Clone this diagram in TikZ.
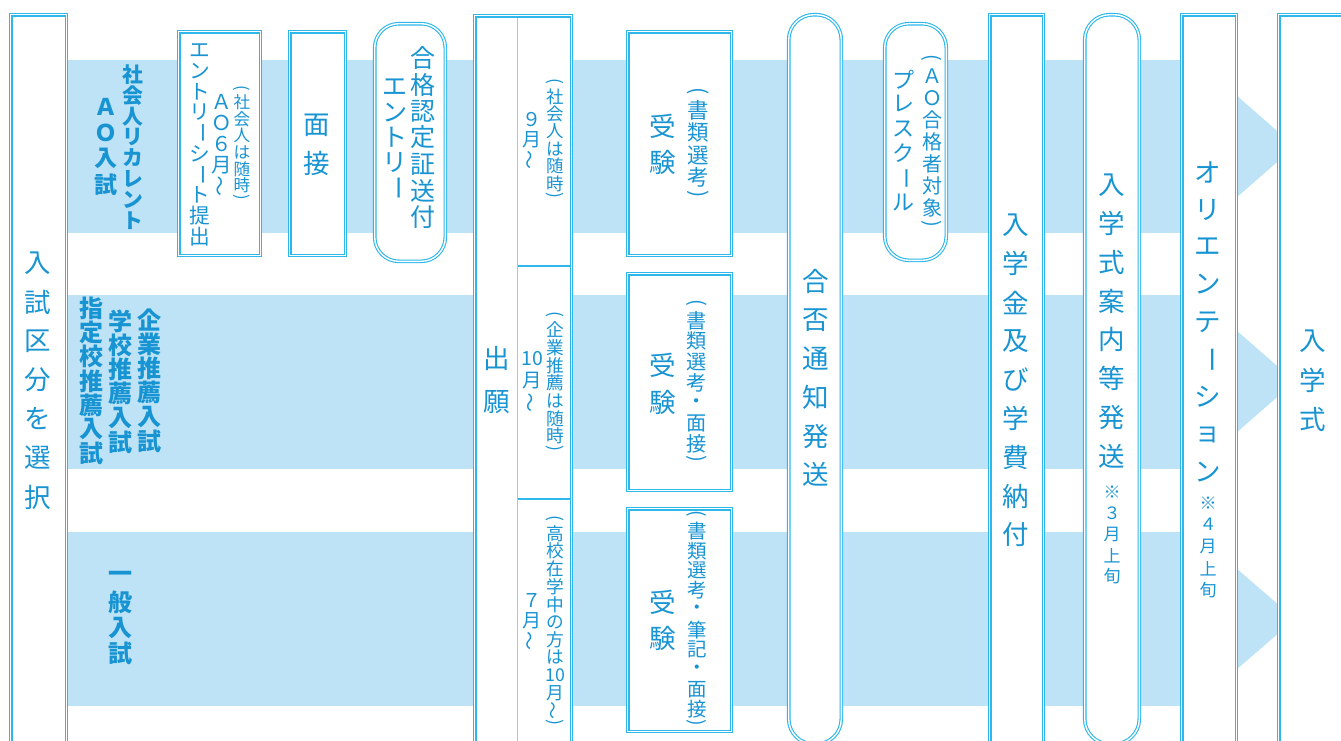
\documentclass[tikz,border=0pt]{standalone}
\usepackage{fontspec}
\usepackage{graphicx}
\usetikzlibrary{fit}
\newfontfamily\jp{Noto Sans CJK JP}
\definecolor{bandc}{HTML}{BEE3F6}
\definecolor{linec}{HTML}{2DB7EB}
\definecolor{txtc}{HTML}{1894D3}
\definecolor{divc}{HTML}{8AD3F2}
% vertical text machinery
\newdimen\vpitch
\def\vLP{vLP}\def\vRP{vRP}\def\vDot{vDot}
\def\vBar{\rotatebox[origin=c]{-90}{ー}}
\def\vTil{\rotatebox[origin=c]{90}{～}}
\def\vTen{10}
\def\vfull#1{\vbox to\vpitch{\vss\hbox to 3em{\hss#1\hss}\vss}}
\def\vsmall#1{\vbox to 0.55\vpitch{\vss\hbox to 3em{\hss#1\hss}\vss}}
\def\vitem#1{\ifx#1\vLP\vsmall{\rotatebox[origin=c]{-90}{(}}\else\ifx#1\vRP\vsmall{\rotatebox[origin=c]{-90}{)}}\else\ifx#1\vDot\vfull{・}\else\vfull{#1}\fi\fi\fi}
\def\vtl#1{\ifx#1\relax\else\vitem{#1}\expandafter\vtl\fi}
\newcommand\vcol[2]{\vbox{\offinterlineskip\vpitch=#1pt\relax\vtl#2\relax}}
\tikzset{
  box/.style={draw=linec, line width=1.1pt, double=white, double distance=1.4pt, fill=white, inner sep=0pt},
  rbox/.style={box, rounded corners=#1},
  lab/.style={inner sep=0pt, text=txtc, font=\jp\fontsize{#1pt}{#1pt}\selectfont},
  blab/.style={inner sep=0pt, text=txtc, font=\jp\bfseries\fontsize{#1pt}{#1pt}\selectfont},
  divline/.style={draw=divc, line width=1pt},
  hdiv/.style={draw=linec, line width=1.3pt},
}
\begin{document}
\begin{tikzpicture}[x=1pt,y=-1pt]
\useasboundingbox (0,0) rectangle (1341,740);
\clip (0,0) rectangle (1341,740);
% bands
\fill[bandc] (60,60) rectangle (1237,233);
\fill[bandc] (60,295) rectangle (1237,469);
\fill[bandc] (60,532) rectangle (1237,706);
\fill[bandc] (1236,95) -- (1295,146.5) -- (1236,198) -- cycle;
\fill[bandc] (1236,330) -- (1295,381.5) -- (1236,433) -- cycle;
\fill[bandc] (1236,568) -- (1295,619) -- (1236,670) -- cycle;
% boxes
\node[box, fit={(10.7,14.7) (66.3,770)}] (b1) {};
\node[box, fit={(178.7,31.7) (260.3,255.3)}] (b2) {};
\node[box, fit={(289.7,31.7) (345.3,255.3)}] (b3) {};
\node[rbox=24pt, fit={(374.7,23.7) (445.3,261.3)}] (b4) {};
\node[box, fit={(474.7,15.7) (571.3,770)}] (b5) {};
\node[box, fit={(627.7,31.7) (731.3,255.3)}] (b6) {};
\node[box, fit={(627.7,273.7) (731.3,490.3)}] (b7) {};
\node[box, fit={(627.7,508.7) (731.3,731.3)}] (b8) {};
\node[rbox=25pt, fit={(788.7,14.7) (841.3,744)}] (b9) {};
\node[rbox=24pt, fit={(884.7,23.7) (946.3,260.3)}] (b10) {};
\node[box, fit={(989.7,14.7) (1043.3,770)}] (b11) {};
\node[rbox=25pt, fit={(1084.7,14.7) (1139.3,744)}] (b12) {};
\node[box, fit={(1181.7,14.7) (1236.3,770)}] (b13) {};
\node[box, fit={(1278.7,14.7) (1400,770)}] (b14) {};
% dividers of the application column
\draw[divline] (517.5,17.5) -- (517.5,770);
\draw[hdiv] (517.5,266) -- (569.5,266);
\draw[hdiv] (517.5,499) -- (569.5,499);
% band labels
\node[blab=20.8] (l1a) at (133,147.5) {\vcol{20.8}{社会人リカレント}};
\node[blab=23] (l1b) at (106,145.5) {\vcol{26}{ＡＯ入試}};
\node[blab=24] (l2a) at (149,380.5) {\vcol{24.2}{企業推薦入試}};
\node[blab=24] (l2b) at (120,381.5) {\vcol{24.2}{学校推薦入試}};
\node[blab=24] (l2c) at (91,381) {\vcol{24.2}{指定校推薦入試}};
\node[blab=24] (l3) at (120,615.5) {\vcol{25.5}{一般入試}};
% box texts
\node[lab=26.5] (t1) at (38,380) {\vcol{39}{入試区分を選択}};
\node[lab=20.7] (t2a) at (200,143.5) {\vcol{20.7}{エントリ\vBar シ\vBar ト提出}};
\node[lab=20.5] (t2b) at (222,144) {\vcol{21}{ＡＯ６月\vTil}};
\node[lab=16.6] (t2c) at (242,144) {\vcol{16.6}{\vLP 社会人は随時\vRP}};
\node[lab=26.5] (t3) at (317,144) {\vcol{38}{面接}};
\node[lab=25] (t4a) at (423,137.5) {\vcol{26.5}{合格認定証送付}};
\node[lab=25] (t4b) at (395,137.5) {\vcol{25}{エントリ\vBar}};
\node[lab=26.5] (t5) at (497,380) {\vcol{44}{出願}};
\node[lab=19] (t5a) at (532,140) {\vcol{20}{９月\vTil}};
\node[lab=17.4] (t5b) at (555,140) {\vcol{17.4}{\vLP 社会人は随時\vRP}};
\node[lab=19.5] (t5c) at (532,381) {\vcol{22}{\vTen 月\vTil}};
\node[lab=17.7] (t5d) at (555,383) {\vcol{17.7}{\vLP 企業推薦は随時\vRP}};
\node[lab=19] (t5e) at (532,621) {\vcol{20}{７月\vTil}};
\node[lab=17.7] (t5f) at (555,622) {\vcol{17.7}{\vLP 高校在学中の方は\vTen 月\vTil\vRP}};
\node[lab=26.5] (t6a) at (663,144) {\vcol{36}{受験}};
\node[lab=21.5] (t6b) at (698,144) {\vcol{22.5}{\vLP 書類選考\vRP}};
\node[lab=26.5] (t7a) at (663,383.5) {\vcol{37}{受験}};
\node[lab=20.2] (t7b) at (697,382.5) {\vcol{20.6}{\vLP 書類選考\vDot 面接\vRP}};
\node[lab=26.5] (t8a) at (663,620) {\vcol{36}{受験}};
\node[lab=19.5] (t8b) at (697,620) {\vcol{19.8}{\vLP 書類選考\vDot 筆記\vDot 面接\vRP}};
\node[lab=26.5] (t9) at (816,378) {\vcol{38.7}{合否通知発送}};
\node[lab=22] (t10a) at (903,141) {\vcol{24.7}{プレスク\vBar ル}};
\node[lab=20] (t10b) at (932,142) {\vcol{22}{\vLP ＡＯ合格者対象\vRP}};
\node[lab=26.5] (t11) at (1016,380) {\vcol{38.75}{入学金及び学費納付}};
\node[lab=26.5] (t12a) at (1112,320.5) {\vcol{38.7}{入学式案内等発送}};
\node[lab=17] (t12b) at (1112,534.5) {\vcol{21}{※３月上旬}};
\node[lab=26.5] (t13a) at (1208,322) {\vcol{37.5}{オリエンテ\vBar ション}};
\node[lab=17] (t13b) at (1208,546.5) {\vcol{21.8}{※４月上旬}};
\node[lab=26.5] (t14) at (1313,380) {\vcol{39}{入学式}};
\end{tikzpicture}
\end{document}
